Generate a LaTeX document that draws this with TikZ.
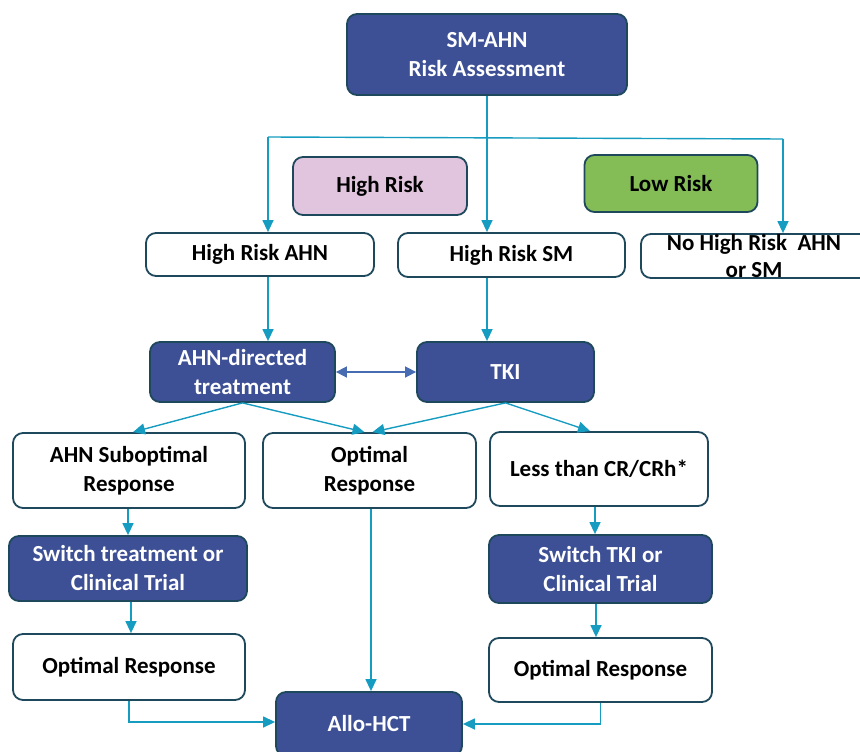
\documentclass[tikz,border=0pt]{standalone}
\usepackage{fontspec}
\setmainfont{Carlito}
\usetikzlibrary{arrows.meta,calc}
\definecolor{dblue}{RGB}{61,80,149}
\definecolor{bord}{RGB}{30,72,92}
\definecolor{teal}{RGB}{22,156,192}
\definecolor{dbl}{RGB}{72,108,178}
\definecolor{pinkf}{RGB}{225,196,221}
\definecolor{greenf}{RGB}{132,188,86}
\tikzset{
  box/.style={draw=bord, line width=1.8pt, rounded corners=10pt, align=center,
    font=\fontsize{23}{29}\selectfont\bfseries, inner sep=0pt},
  bluebox/.style={box, fill=dblue, text=white},
  whitebox/.style={box, fill=white, text=black},
  conn/.style={draw=teal, line width=1.4pt, -{Triangle[width=11pt,length=12pt]}},
  plain/.style={draw=teal, line width=1.4pt},
  dbarrow/.style={draw=dbl, line width=1.6pt, {Triangle[width=11pt,length=11pt]}-{Triangle[width=11pt,length=11pt]}}
}
\begin{document}
\begin{tikzpicture}[x=1pt,y=-1pt]
\useasboundingbox (0,0) rectangle (860,752);
% nodes
\node[bluebox, minimum width=280, minimum height=81] (top) at (487,54.5) {SM-AHN\\Risk Assessment};
\node[box, fill=pinkf, minimum width=174, minimum height=58] (hr) at (380,186) {High Risk};
\node[box, fill=greenf, minimum width=173, minimum height=57] (lr) at (671,183.5) {Low Risk};
\node[whitebox, minimum width=228, minimum height=43] (hrahn) at (260,254.5) {High Risk AHN};
\node[whitebox, minimum width=227, minimum height=44] (hrsm) at (511.5,255) {High Risk SM};
\node[whitebox, minimum width=230, minimum height=44] (nohr) at (756,256) {};
\node[font=\fontsize{23}{27}\selectfont\bfseries, align=center, inner sep=0pt] (nohrt) at (754,256.5) {No High Risk\ \ AHN\\or SM};
\node[bluebox, minimum width=185, minimum height=60] (ahn) at (242.5,372) {AHN-directed\\treatment};
\node[bluebox, minimum width=177, minimum height=60] (tki) at (505.5,372) {TKI};
\node[whitebox, minimum width=232, minimum height=75] (aub) at (129,470.5) {AHN Suboptimal\\Response};
\node[whitebox, minimum width=213, minimum height=75] (om) at (369.5,470.5) {Optimal\\Response};
\node[whitebox, minimum width=218, minimum height=74] (less) at (599,469) {Less than CR/CRh*};
\node[bluebox, minimum width=238, minimum height=65] (swt) at (128,568.5) {Switch treatment or\\Clinical Trial};
\node[whitebox, minimum width=232, minimum height=66] (ol) at (129,667) {Optimal Response};
\node[bluebox, minimum width=223, minimum height=68] (swk) at (600.5,569) {Switch TKI or\\Clinical Trial};
\node[whitebox, minimum width=223, minimum height=64] (orr) at (600.5,670) {Optimal Response};
\node[bluebox, minimum width=186, minimum height=64] (allo) at (369,724) {Allo-HCT};
% connectors
\coordinate (jl) at (268,137);
\coordinate (jr) at (783,139);
\draw[plain] (jl) -- (jr);
\draw[conn] (top.south) -- (top.south |- hrsm.north);
\draw[conn] (jl) -- (jl |- hrahn.north);
\draw[conn] (jr) -- (jr |- nohr.north);
\draw[conn] (jl |- hrahn.south) -- (jl |- ahn.north);
\draw[conn] (top.south |- hrsm.south) -- (top.south |- tki.north);
\draw[dbarrow] (ahn.east) -- (tki.west);
\draw[conn] (ahn.south) -- ($(aub.north)+(4,0)$);
\draw[conn] (ahn.south) -- ($(om.north)+(-5,0)$);
\draw[conn] (tki.south) -- ($(om.north)+(3,0)$);
\draw[conn] (tki.south) -- ($(less.north)+(-9,0)$);
\draw[conn] (aub.south -| swt.north) -- (swt.north);
\draw[conn] ($(swt.south)+(3,0)$) -- ($(ol.north)+(2,0)$);
\draw[conn] ($(less.south)+(-4,0)$) -- ($(swk.north)+(-5.5,0)$);
\draw[conn] ($(swk.south)+(-4.5,0)$) -- ($(orr.north)+(-4.5,0)$);
\draw[conn] ($(om.south)+(1.5,0)$) -- ($(allo.north)+(2,0)$);
\draw[conn] (ol.south) |- ($(allo.west)+(0,-2)$);
\draw[conn] (orr.south) |- (allo.east);
\end{tikzpicture}
\end{document}
